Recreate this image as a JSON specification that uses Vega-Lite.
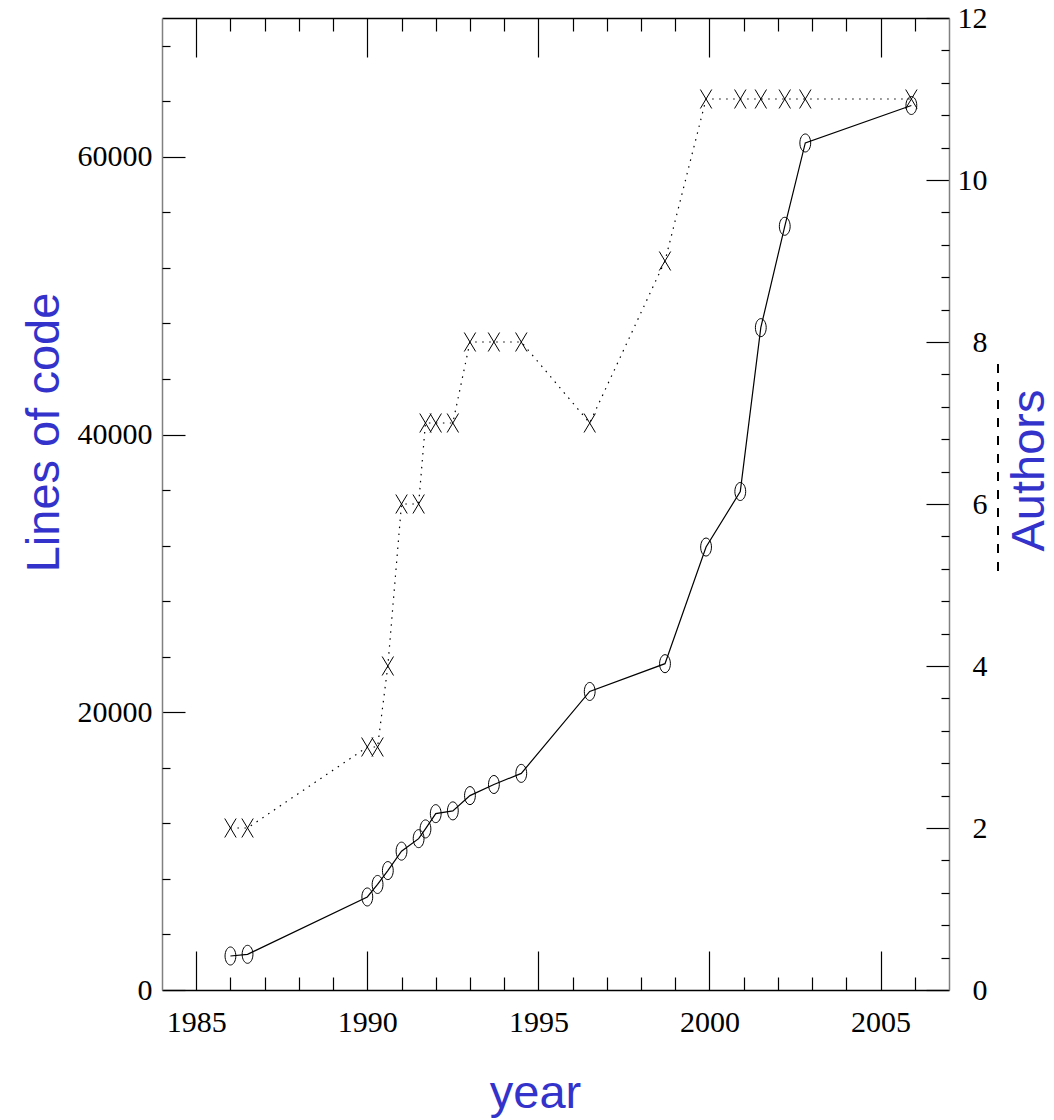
{
  "$schema": "https://vega.github.io/schema/vega-lite/v6.json",
  "autosize": {"type": "none"},
  "padding": {"left": 162, "top": 18, "right": 105, "bottom": 130},
  "width": 787,
  "height": 972,
  "background": "white",
  "config": {
    "view": {"stroke": null},
    "axis": {
      "grid": false,
      "domainWidth": 1.5,
      "tickWidth": 1.2,
      "tickColor": "black",
      "labelFont": "Liberation Serif",
      "labelFontSize": 30,
      "labelColor": "black",
      "labelOverlap": false,
      "labelFlush": false,
      "titleFont": "Liberation Sans",
      "titleFontSize": 47,
      "titleFontWeight": "normal",
      "titleColor": "#3333cc",
      "titleAlign": "center",
      "titleBaseline": "alphabetic"
    }
  },
  "data": {
    "values": [
      {"year": 1986.0, "loc": 2450, "authors": 2},
      {"year": 1986.5, "loc": 2570, "authors": 2},
      {"year": 1990.0, "loc": 6700, "authors": 3},
      {"year": 1990.3, "loc": 7600, "authors": 3},
      {"year": 1990.6, "loc": 8600, "authors": 4},
      {"year": 1991.0, "loc": 10000, "authors": 6},
      {"year": 1991.5, "loc": 10900, "authors": 6},
      {"year": 1991.7, "loc": 11600, "authors": 7},
      {"year": 1992.0, "loc": 12700, "authors": 7},
      {"year": 1992.5, "loc": 12900, "authors": 7},
      {"year": 1993.0, "loc": 14000, "authors": 8},
      {"year": 1993.7, "loc": 14800, "authors": 8},
      {"year": 1994.5, "loc": 15600, "authors": 8},
      {"year": 1996.5, "loc": 21500, "authors": 7},
      {"year": 1998.7, "loc": 23500, "authors": 9},
      {"year": 1999.9, "loc": 31900, "authors": 11},
      {"year": 2000.9, "loc": 35900, "authors": 11},
      {"year": 2001.5, "loc": 47700, "authors": 11},
      {"year": 2002.2, "loc": 55000, "authors": 11},
      {"year": 2002.8, "loc": 61000, "authors": 11},
      {"year": 2005.9, "loc": 63700, "authors": 11}
    ]
  },
  "layer": [
    {
      "mark": {"type": "line", "color": "black", "strokeWidth": 1.2},
      "encoding": {
        "x": {
          "field": "year",
          "type": "quantitative",
          "scale": {"domain": [1984, 2007], "nice": false, "zero": false},
          "axis": {
            "orient": "bottom",
            "values": [1985, 1990, 1995, 2000, 2005],
            "format": "d",
            "tickSize": -39,
            "labelPadding": 56,
            "domainColor": "black",
            "title": "year",
            "titleAngle": 0,
            "titleX": 373,
            "titleY": 117
          }
        },
        "y": {
          "field": "loc",
          "type": "quantitative",
          "scale": {"domain": [0, 70000], "nice": false, "zero": true},
          "axis": {
            "orient": "left",
            "values": [0, 20000, 40000, 60000],
            "format": "d",
            "tickSize": -23,
            "labelPadding": 33,
            "domainColor": "#808080",
            "title": "Lines of code",
            "titleAngle": -90,
            "titleX": -104,
            "titleY": 414
          }
        }
      }
    },
    {
      "mark": {
        "type": "point",
        "shape": "M -0.6 0 A 0.6 1 0 1 0 0.6 0 A 0.6 1 0 1 0 -0.6 0 Z",
        "size": 324,
        "filled": false,
        "stroke": "black",
        "strokeWidth": 1,
        "opacity": 1
      },
      "encoding": {
        "x": {
          "field": "year",
          "type": "quantitative",
          "scale": {"domain": [1984, 2007], "nice": false, "zero": false},
          "axis": {
            "orient": "bottom",
            "values": [1986, 1987, 1988, 1989, 1991, 1992, 1993, 1994, 1996, 1997, 1998, 1999, 2001, 2002, 2003, 2004, 2006],
            "tickSize": -13,
            "labels": false,
            "domain": false,
            "title": null
          }
        },
        "y": {
          "field": "loc",
          "type": "quantitative",
          "scale": {"domain": [0, 70000], "nice": false, "zero": true},
          "axis": {
            "orient": "left",
            "values": [4000, 8000, 12000, 16000, 24000, 28000, 32000, 36000, 44000, 48000, 52000, 56000, 64000, 68000],
            "tickSize": -8,
            "labels": false,
            "domain": false,
            "title": null
          }
        }
      }
    },
    {
      "layer": [
        {
          "mark": {"type": "line", "color": "black", "strokeWidth": 1.2, "strokeDash": [1.5, 5.5]},
          "encoding": {
            "x": {
              "field": "year",
              "type": "quantitative",
              "scale": {"domain": [1984, 2007], "nice": false, "zero": false},
              "axis": {
                "orient": "top",
                "values": [1985, 1990, 1995, 2000, 2005],
                "tickSize": -39,
                "labels": false,
                "domainColor": "black",
                "title": null
              }
            },
            "y": {
              "field": "authors",
              "type": "quantitative",
              "scale": {"domain": [0, 12], "nice": false, "zero": true},
              "axis": {
                "orient": "right",
                "values": [0, 2, 4, 6, 8, 10, 12],
                "format": "d",
                "tickSize": -23,
                "labelAlign": "right",
                "labelPadding": 61,
                "domainColor": "#808080",
                "title": "Authors",
                "titleAngle": -90,
                "titleX": 94,
                "titleY": 452
              }
            }
          }
        },
        {
          "mark": {"type": "rule", "color": "black", "strokeWidth": 1, "strokeDash": [8, 10]},
          "encoding": {
            "x": {"datum": 2008.43, "type": "quantitative"},
            "y": {"datum": 7.72, "type": "quantitative"},
            "y2": {"datum": 5.15}
          }
        }
      ]
    },
    {
      "mark": {
        "type": "point",
        "shape": "M -0.6 -1 L 0.6 1 M 0.6 -1 L -0.6 1",
        "size": 361,
        "filled": false,
        "stroke": "black",
        "strokeWidth": 1,
        "opacity": 1
      },
      "encoding": {
        "x": {
          "field": "year",
          "type": "quantitative",
          "scale": {"domain": [1984, 2007], "nice": false, "zero": false},
          "axis": {
            "orient": "top",
            "values": [1986, 1987, 1988, 1989, 1991, 1992, 1993, 1994, 1996, 1997, 1998, 1999, 2001, 2002, 2003, 2004, 2006],
            "tickSize": -13,
            "labels": false,
            "domain": false,
            "title": null
          }
        },
        "y": {
          "field": "authors",
          "type": "quantitative",
          "scale": {"domain": [0, 12], "nice": false, "zero": true},
          "axis": {
            "orient": "right",
            "values": [0.4, 0.8, 1.2, 1.6, 2.4, 2.8, 3.2, 3.6, 4.4, 4.8, 5.2, 5.6, 6.4, 6.8, 7.2, 7.6, 8.4, 8.8, 9.2, 9.6, 10.4, 10.8, 11.2, 11.6],
            "tickSize": -8,
            "labels": false,
            "domain": false,
            "title": null
          }
        }
      }
    }
  ],
  "resolve": {"scale": {"y": "independent"}, "axis": {"x": "independent"}}
}
